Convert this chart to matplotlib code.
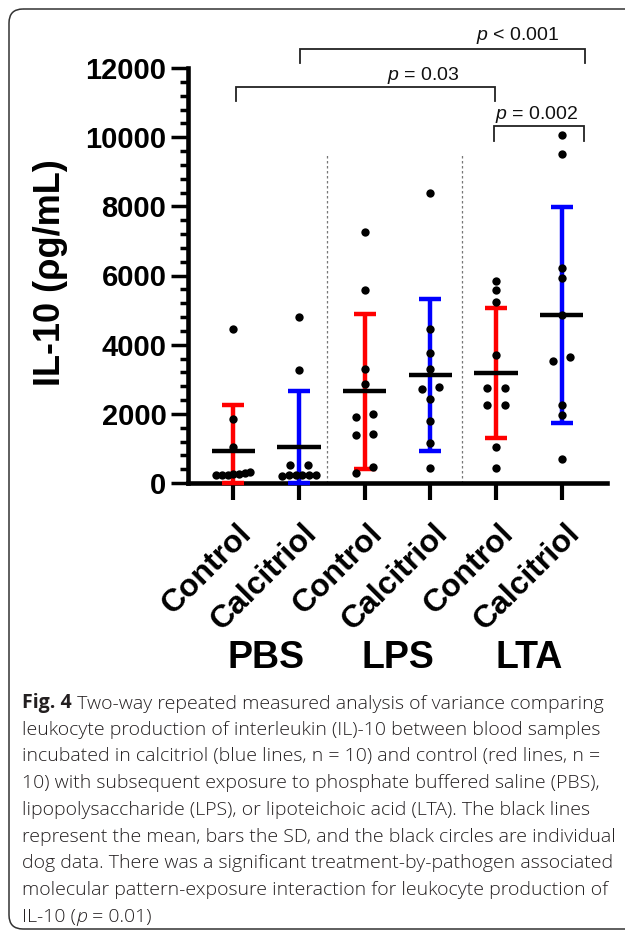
import numpy as np
import matplotlib.pyplot as plt
import matplotlib.transforms as mtransforms
from matplotlib.patches import FancyBboxPatch
from matplotlib.ticker import MultipleLocator

plt.rcParams['font.family'] = ['Liberation Sans', 'DejaVu Sans']
plt.rcParams['mathtext.fontset'] = 'custom'
plt.rcParams['mathtext.it'] = 'Liberation Sans:italic'
plt.rcParams['mathtext.rm'] = 'Liberation Sans'

# values (pg/mL), 10 dogs per group
groups = ['Control', 'Calcitriol', 'Control', 'Calcitriol', 'Control', 'Calcitriol']
exposures = ['PBS', 'LPS', 'LTA']
pbs_control = [4450, 1850, 1040, 310, 280, 260, 250, 240, 230, 220]
pbs_calcitriol = [4800, 3270, 530, 510, 240, 230, 230, 220, 220, 210]
lps_control = [7260, 5580, 3290, 2850, 2000, 1920, 1430, 1390, 470, 280]
lps_calcitriol = [8400, 4440, 3770, 3290, 2780, 2730, 2420, 1790, 1150, 420]
lta_control = [5850, 5580, 5240, 3700, 2740, 2740, 2250, 2250, 1050, 420]
lta_calcitriol = [10060, 9510, 6230, 5940, 4860, 3630, 3530, 2250, 1970, 680]

# significance brackets: (x start, x end, line level, drop level, label, label x, label y)
brackets = [
    (1.01, 5.35, 12550, 12150, 'p < 0.001', 4.33, 12810),
    (0.04, 3.98, 11450, 11050, 'p = 0.03', 2.90, 11640),
    (3.97, 5.34, 10320, 9890, 'p = 0.002', 4.62, 10525),
]

caption = [
    'leukocyte production of interleukin (IL)-10 between blood samples',
    'incubated in calcitriol (blue lines, n = 10) and control (red lines, n =',
    '10) with subsequent exposure to phosphate buffered saline (PBS),',
    'lipopolysaccharide (LPS), or lipoteichoic acid (LTA). The black lines',
    'represent the mean, bars the SD, and the black circles are individual',
    'dog data. There was a significant treatment-by-pathogen associated',
    'molecular pattern-exposure interaction for leukocyte production of',
]

data = [pbs_control, pbs_calcitriol, lps_control, lps_calcitriol, lta_control, lta_calcitriol]
bar_colors = ['#ff0000', '#0000ff']


def swarm_offsets(vals, row_gap=250, max_step=0.26, max_span=0.52):
    # points that sit at about the same height get spread sideways
    vals = np.asarray(vals, dtype=float)
    order = np.argsort(vals)[::-1]
    rows = []
    for i in order:
        if rows and vals[rows[-1][0]] - vals[i] < row_gap:
            rows[-1].append(i)
        else:
            rows.append([i])
    offsets = np.zeros(len(vals))
    for row in rows:
        n = len(row)
        if n > 1:
            row = sorted(row, key=lambda k: vals[k])
            step = min(max_step, max_span / (n - 1))
            for k, i in enumerate(row):
                offsets[i] = (k - (n - 1) / 2) * step
    return offsets


W, H = 625, 934
fig = plt.figure(figsize=(W / 100, H / 100), dpi=100)


def fx(px):
    return px / W


def fy(py):
    return 1 - py / H


bg = fig.add_axes([0, 0, 1, 1])
bg.set_xlim(0, W)
bg.set_ylim(H, 0)
bg.axis('off')
bg.add_patch(FancyBboxPatch((9, 9), 700, 920, boxstyle='round,pad=0,rounding_size=14',
                            fc='none', ec='#333333', lw=1.1))

ax = fig.add_axes([fx(188), fy(483), fx(607) - fx(188), fy(68) - fy(483)])
ax.set_xlim(-0.69, 5.69)
ax.set_ylim(0, 12000)

for i, vals in enumerate(data):
    v = np.array(vals, dtype=float)
    m = v.mean()
    sd = v.std(ddof=1)
    lo = max(m - sd, 0)
    ax.errorbar(i, m, yerr=[[m - lo], [sd]], fmt='none', ecolor=bar_colors[i % 2],
                elinewidth=3.2, capsize=8, capthick=3.2, zorder=3, clip_on=False)
    ax.plot([i - 0.33, i + 0.33], [m, m], color='black', lw=3.2, zorder=4,
            solid_capstyle='butt')
    ax.scatter(i + swarm_offsets(v), v, s=36, color='black', linewidths=0,
               zorder=5, clip_on=False)

for xs in (1.43, 3.48):
    ax.plot([xs, xs], [0, 9550], color='#777777', lw=0.9, ls=(0, (2, 2)), zorder=1)

for x0, x1, yl, yd, lab, lx, ly in brackets:
    ax.plot([x0, x0, x1, x1], [yd, yl, yl, yd], color='#222222', lw=1.3,
            clip_on=False, solid_joinstyle='miter')
    ax.text(lx, ly, r'$\it{p}$' + lab[1:], ha='center', va='baseline',
            fontsize=14, color='#111111', clip_on=False)

for side in ('top', 'right'):
    ax.spines[side].set_visible(False)
for side in ('left', 'bottom'):
    ax.spines[side].set_linewidth(3.3)

ax.yaxis.set_major_locator(MultipleLocator(2000))
ax.yaxis.set_minor_locator(MultipleLocator(400))
ax.tick_params(axis='y', which='major', length=12.5, width=2.5, pad=3,
               labelsize=21)
ax.tick_params(axis='y', which='minor', length=6, width=2.5)
ax.tick_params(axis='x', which='major', length=12.5, width=3, pad=13)
for lbl in ax.get_yticklabels():
    lbl.set_fontweight('bold')

ax.set_xticks(range(len(groups)))
ax.set_xticklabels(groups, rotation=45, ha='right', va='top', rotation_mode='anchor',
                   fontsize=23, fontweight='bold')
shift = mtransforms.ScaledTranslation(3 / 100, 0, fig.dpi_scale_trans)
for lbl in ax.get_xticklabels():
    lbl.set_transform(lbl.get_transform() + shift)

fig.text(fx(50), fy(273), 'IL-10 (ρg/mL)', rotation=90, ha='center', va='center',
         fontsize=26, fontweight='bold')

blend = mtransforms.blended_transform_factory(ax.transData, fig.transFigure)
for k, name in enumerate(exposures):
    ax.text(2 * k + 0.5, fy(668), name, transform=blend, ha='center', va='baseline',
            fontsize=27, fontweight='bold')

# caption
cap_font = dict(family=['Open Sans', 'DejaVu Sans'], fontsize=14, color='#231f20')
x0 = 22
y_base = 708
pitch = 26.7
t = bg.text(x0, y_base, 'Fig. 4', ha='left', va='baseline', fontweight='bold', **cap_font)
bg.annotate(' Two-way repeated measured analysis of variance comparing', xy=(1, 0),
            xycoords=t, va='bottom', ha='left', fontweight='light', **cap_font)
for j, line in enumerate(caption):
    bg.text(x0, y_base + (j + 1) * pitch, line, ha='left', va='baseline',
            fontweight='light', **cap_font)
t = bg.text(x0, y_base + 8 * pitch, 'IL-10 (', ha='left', va='baseline',
            fontweight='light', **cap_font)
t = bg.annotate('p', xy=(1, 0), xycoords=t, va='bottom', ha='left', style='italic',
                fontweight='light', **cap_font)
bg.annotate(' = 0.01)', xy=(1, 0), xycoords=t, va='bottom', ha='left',
            fontweight='light', **cap_font)

fig.savefig('out.png', dpi=100)
